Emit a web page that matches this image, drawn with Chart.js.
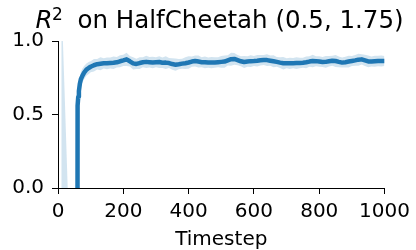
<!DOCTYPE html>
<html>
<head>
<meta charset="utf-8">
<script src="https://cdn.jsdelivr.net/npm/chart.js@4/dist/chart.umd.min.js"></script>
<style>
  html, body { margin: 0; padding: 0; background: #ffffff; }
  #wrap { width: 416px; height: 250px; position: relative; }
</style>
</head>
<body>
<div id="wrap"><canvas id="c" width="416" height="250"></canvas></div>
<script>
// ---- data ----
const titleMain = "on HalfCheetah (0.5, 1.75)";
const xAxisTitle = "Timestep";
const xTickValues = [0, 200, 400, 600, 800, 1000];
const yTickValues = [0.0, 0.5, 1.0];

const timesteps = [10, 20, 30, 40, 50, 55, 58, 60, 62, 64, 67, 70, 75, 80, 87, 95,
  100, 110, 120, 130, 140, 150, 160, 170, 180, 190,
  200, 210, 220, 230, 240, 250, 260, 270, 280, 290,
  300, 310, 320, 330, 340, 350, 360, 370, 380, 390,
  400, 410, 420, 430, 440, 450, 460, 470, 480, 490,
  500, 510, 520, 530, 540, 550, 560, 570, 580, 590,
  600, 610, 620, 630, 640, 650, 660, 670, 680, 690,
  700, 710, 720, 730, 740, 750, 760, 770, 780, 790,
  800, 810, 820, 830, 840, 850, 860, 870, 880, 890,
  900, 910, 920, 930, 940, 950, 960, 970, 980, 990, 1000];

const meanR2 = [-4, -4.5, -5, -5, -5, -5, -5, 0.56, 0.62, 0.66, 0.71, 0.74, 0.765, 0.785, 0.805, 0.818,
  0.825, 0.835, 0.842, 0.845, 0.848, 0.848, 0.850, 0.852, 0.855, 0.862,
  0.868, 0.875, 0.862, 0.848, 0.844, 0.850, 0.855, 0.858, 0.856, 0.854,
  0.856, 0.857, 0.852, 0.853, 0.850, 0.843, 0.839, 0.842, 0.846, 0.849,
  0.854, 0.860, 0.864, 0.860, 0.856, 0.855, 0.853, 0.853, 0.854, 0.856,
  0.858, 0.860, 0.868, 0.876, 0.878, 0.870, 0.862, 0.857, 0.860, 0.863,
  0.864, 0.866, 0.869, 0.871, 0.870, 0.866, 0.862, 0.858, 0.853, 0.849,
  0.848, 0.848, 0.849, 0.850, 0.850, 0.852, 0.855, 0.860, 0.864, 0.863,
  0.860, 0.857, 0.858, 0.862, 0.866, 0.864, 0.858, 0.853, 0.856, 0.860,
  0.864, 0.868, 0.873, 0.875, 0.868, 0.861, 0.860, 0.862, 0.864, 0.864, 0.864];

const spreadR2 = [5.33, 5.17, 4.98, 2.0, 2.0, 2.0, 1.5, 0.06, 0.06, 0.055, 0.05, 0.05, 0.048, 0.045, 0.042, 0.04,
  0.038, 0.042, 0.036, 0.044, 0.035, 0.04, 0.037, 0.043, 0.036, 0.041,
  0.038, 0.045, 0.036, 0.042, 0.035, 0.04, 0.034, 0.041, 0.036, 0.039,
  0.034, 0.04, 0.036, 0.043, 0.034, 0.039, 0.042, 0.035, 0.034, 0.04,
  0.043, 0.035, 0.038, 0.041, 0.034, 0.04, 0.035, 0.039, 0.036, 0.034,
  0.04, 0.042, 0.035, 0.044, 0.04, 0.035, 0.034, 0.041, 0.036, 0.04,
  0.034, 0.039, 0.036, 0.034, 0.04, 0.035, 0.041, 0.034, 0.036, 0.043,
  0.034, 0.038, 0.035, 0.04, 0.036, 0.034, 0.04, 0.036, 0.042, 0.034,
  0.036, 0.034, 0.04, 0.036, 0.034, 0.041, 0.036, 0.034, 0.037, 0.04,
  0.034, 0.037, 0.041, 0.035, 0.038, 0.04, 0.034, 0.037, 0.035, 0.038, 0.034];

// ---- derived series ----
const meanPts = timesteps.map((t, i) => ({ x: t, y: meanR2[i] }));
const upperPts = timesteps.map((t, i) => ({ x: t, y: meanR2[i] + spreadR2[i] }));
const lowerPts = timesteps.map((t, i) => ({ x: t, y: meanR2[i] - spreadR2[i] }));

const FONT = '"DejaVu Sans", "Liberation Sans", sans-serif';
const lineColor = '#1f77b4';
const bandColor = 'rgba(31,119,180,0.2)';

const titlePlugin = {
  id: 'mathTitle',
  afterDraw(chart) {
    const ctx = chart.ctx;
    ctx.save();
    ctx.fillStyle = '#000000';
    ctx.textBaseline = 'alphabetic';
    ctx.textAlign = 'left';
    ctx.font = 'italic 24.5px ' + FONT;
    ctx.fillText('R', 35.5, 28);
    ctx.font = '17px ' + FONT;
    ctx.fillText('2', 52, 20);
    ctx.font = '24.5px ' + FONT;
    ctx.fillText(titleMain, 77.5, 28);
    ctx.restore();
  }
};

new Chart(document.getElementById('c'), {
  type: 'line',
  data: {
    datasets: [
      { label: 'mean', data: meanPts, borderColor: lineColor, borderWidth: 4.5,
        pointRadius: 0, fill: false, tension: 0, order: 0,
        borderJoinStyle: 'round', borderCapStyle: 'butt' },
      { label: 'upper', data: upperPts, borderWidth: 0, borderColor: 'rgba(0,0,0,0)',
        backgroundColor: bandColor, pointRadius: 0, fill: '+1', tension: 0, order: 1 },
      { label: 'lower', data: lowerPts, borderWidth: 0, borderColor: 'rgba(0,0,0,0)',
        pointRadius: 0, fill: false, tension: 0, order: 2 }
    ]
  },
  options: {
    responsive: false,
    animation: false,
    events: [],
    layout: { padding: { top: 41, right: 29, left: 0, bottom: 0 } },
    plugins: {
      legend: { display: false },
      title: { display: false },
      tooltip: { enabled: false }
    },
    scales: {
      x: {
        type: 'linear', min: 0, max: 1000,
        afterBuildTicks(scale) { scale.ticks = xTickValues.map(v => ({ value: v })); },
        afterFit(scale) { scale.height = 62; },
        grid: { display: true, drawOnChartArea: false, drawTicks: true, tickLength: 6,
                color: '#000000', tickColor: '#000000', lineWidth: 1 },
        border: { display: true, color: '#000000', width: 1 },
        ticks: { color: '#000000', font: { family: FONT, size: 20 }, padding: 6,
                 maxRotation: 0, autoSkip: false,
                 callback: (v) => String(v) },
        title: { display: true, text: xAxisTitle, color: '#000000',
                 font: { family: FONT, size: 20, lineHeight: 1.0 },
                 padding: { top: 0, bottom: 0 } }
      },
      y: {
        type: 'linear', min: 0, max: 1,
        afterBuildTicks(scale) { scale.ticks = yTickValues.map(v => ({ value: v })); },
        afterFit(scale) { scale.width = 58; },
        grid: { display: true, drawOnChartArea: false, drawTicks: true, tickLength: 6,
                color: '#000000', tickColor: '#000000', lineWidth: 1 },
        border: { display: true, color: '#000000', width: 1 },
        ticks: { color: '#000000', font: { family: FONT, size: 20 }, padding: 8,
                 autoSkip: false,
                 callback: (v) => Number(v).toFixed(1) }
      }
    }
  },
  plugins: [titlePlugin]
});
</script>
</body>
</html>
